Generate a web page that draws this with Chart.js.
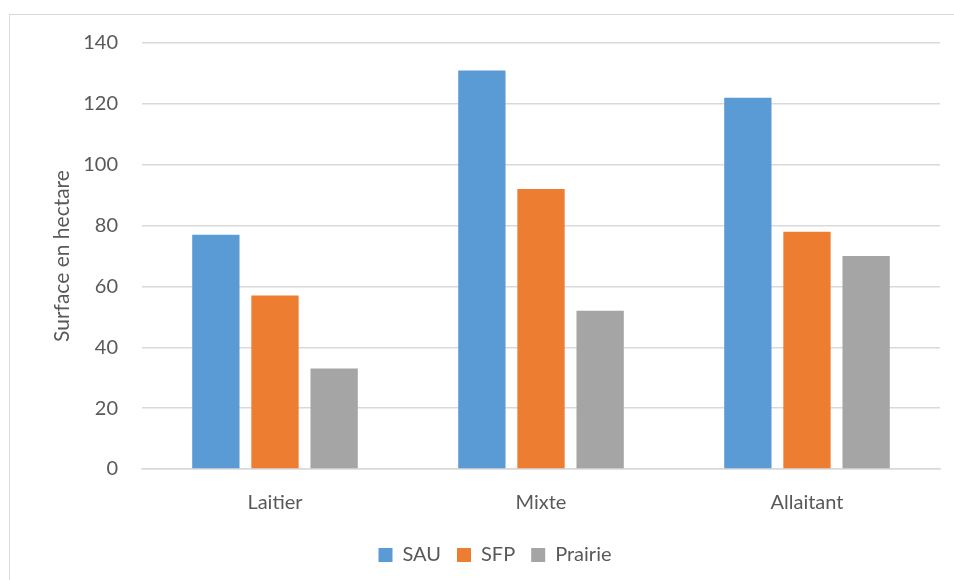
<!DOCTYPE html>
<html lang="fr">
<head>
  <meta charset="UTF-8" />
  <title>Surface en hectare</title>
  <script src="https://cdn.jsdelivr.net/npm/chart.js"></script>
  <style>
    body { margin: 0; width: 954px; height: 580px; overflow: hidden; background: #fff; }
    .frame { position: absolute; left: 9px; top: 14px; width: 960px; height: 600px; border: 1px solid #d9d9d9; }
    .wrap { position: absolute; left: 0; top: 0; width: 954px; height: 580px; }
  </style>
</head>
<body>
  <div class="frame"></div>
  <div class="wrap"><canvas id="chart"></canvas></div>
  <script>
    const categories = ["Laitier", "Mixte", "Allaitant"];
    const sau = [77, 131, 122];
    const sfp = [57, 92, 78];
    const prairie = [33, 52, 70];
    const yTicks = [0, 20, 40, 60, 80, 100, 120, 140];

    const font = "Lato, sans-serif";

    new Chart(document.getElementById("chart"), {
      type: "bar",
      data: {
        labels: categories,
        datasets: [
          { label: "SAU", data: sau, backgroundColor: "#5b9bd5" },
          { label: "SFP", data: sfp, backgroundColor: "#ed7d31" },
          { label: "Prairie", data: prairie, backgroundColor: "#a5a5a5" }
        ]
      },
      options: {
        responsive: true,
        maintainAspectRatio: false,
        animation: false,
        layout: { padding: { top: 43, right: 14, left: 50, bottom: 5 } },
        datasets: { bar: { barPercentage: 0.8, categoryPercentage: 0.667 } },
        scales: {
          x: {
            grid: { display: false },
            border: { color: "#d9d9d9", width: 1.5 },
            ticks: { color: "#595959", font: { family: font, size: 20 }, padding: 14 }
          },
          y: {
            min: 0,
            max: 140,
            afterBuildTicks: (axis) => { axis.ticks = yTicks.map(v => ({ value: v })); },
            grid: { color: "#d9d9d9", lineWidth: 1.5, drawTicks: false },
            border: { display: false },
            ticks: { color: "#595959", font: { family: font, size: 20 }, padding: 24 },
            title: { display: true, text: "Surface en hectare", color: "#595959", font: { family: font, size: 21 }, padding: { top: 0, bottom: -16 } }
          }
        },
        plugins: {
          legend: {
            position: "bottom",
            labels: { color: "#595959", font: { family: font, size: 20 }, boxWidth: 14, boxHeight: 14, padding: 16 }
          },
          tooltip: { enabled: false }
        }
      }
    });
  </script>
</body>
</html>
